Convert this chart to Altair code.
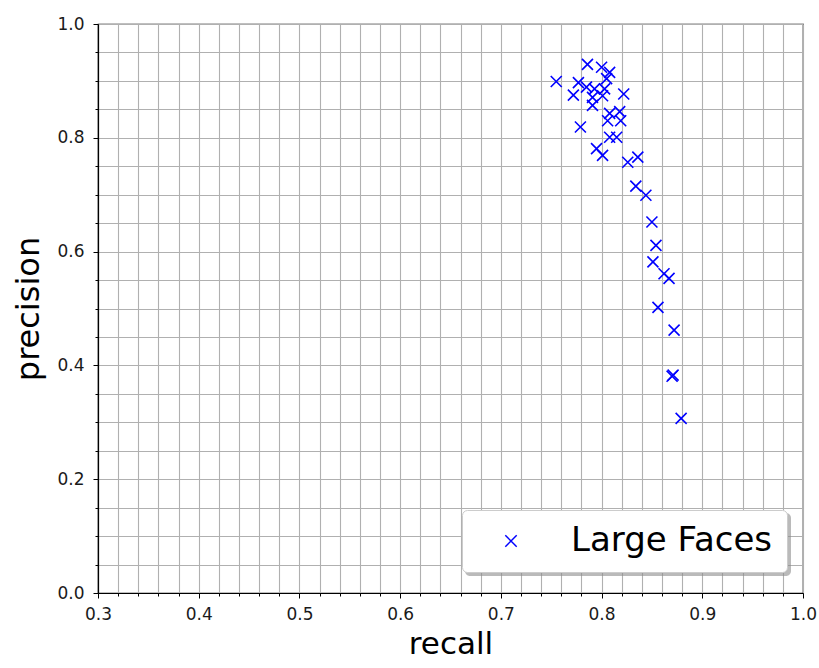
import altair as alt
import pandas as pd

# ---- data ----
recall = [0.755, 0.777, 0.772, 0.786, 0.800, 0.808, 0.805, 0.785, 0.793, 0.803,
          0.801, 0.791, 0.822, 0.791, 0.779, 0.808, 0.818, 0.806, 0.819, 0.808,
          0.815, 0.795, 0.801, 0.826, 0.836, 0.834, 0.844, 0.850, 0.854, 0.851,
          0.862, 0.867, 0.856, 0.872, 0.870, 0.871, 0.879]
precision = [0.899, 0.897, 0.875, 0.929, 0.924, 0.915, 0.904, 0.889, 0.886, 0.886,
             0.874, 0.871, 0.877, 0.857, 0.819, 0.843, 0.846, 0.830, 0.830, 0.801,
             0.801, 0.781, 0.769, 0.757, 0.766, 0.715, 0.699, 0.652, 0.611, 0.582,
             0.561, 0.553, 0.502, 0.462, 0.381, 0.383, 0.307]
series_name = "Large Faces"

x_ticks = [0.30, 0.32, 0.34, 0.36, 0.38, 0.40, 0.42, 0.44, 0.46, 0.48,
           0.50, 0.52, 0.54, 0.56, 0.58, 0.60, 0.62, 0.64, 0.66, 0.68,
           0.70, 0.72, 0.74, 0.76, 0.78, 0.80, 0.82, 0.84, 0.86, 0.88,
           0.90, 0.92, 0.94, 0.96, 0.98, 1.00]
y_ticks = [0.00, 0.05, 0.10, 0.15, 0.20, 0.25, 0.30, 0.35, 0.40, 0.45,
           0.50, 0.55, 0.60, 0.65, 0.70, 0.75, 0.80, 0.85, 0.90, 0.95, 1.00]

df = pd.DataFrame({"recall": recall, "precision": precision,
                   "series": [series_name] * len(recall)})

XPATH = "M -1 -1 L 1 1 M -1 1 L 1 -1"
FONT = "DejaVu Sans"
GRID = "#b0b0b0"

x_major = "abs(datum.value*10 - round(datum.value*10)) < 0.001"
y_major = "abs(datum.value*5 - round(datum.value*5)) < 0.001"

x_axis = alt.Axis(
    values=x_ticks,
    labelExpr=f"{x_major} ? format(datum.value, '.1f') : ''",
    grid=True, gridColor=GRID, gridWidth=1.1, gridOpacity=1,
    domainColor="black", domainWidth=1.2,
    tickColor="black", tickWidth=1,
    tickSize={"condition": {"test": x_major, "value": 5}, "value": 3},
    labelFont=FONT, labelFontSize=17, labelColor="#1a1a1a", labelPadding=8,
    labelOverlap=False, labelFlush=False,
    titleFont=FONT, titleFontSize=31, titleFontWeight="normal",
    titleColor="black", titlePadding=7,
)
y_axis = alt.Axis(
    values=y_ticks,
    labelExpr=f"{y_major} ? format(datum.value, '.1f') : ''",
    grid=True, gridColor=GRID, gridWidth=1.1, gridOpacity=1,
    domainColor="black", domainWidth=1.2,
    tickColor="black", tickWidth=1,
    tickSize={"condition": {"test": y_major, "value": 5}, "value": 3},
    labelFont=FONT, labelFontSize=17, labelColor="#1a1a1a", labelPadding=9,
    labelOverlap=False, labelFlush=False,
    titleFont=FONT, titleFontSize=32, titleFontWeight="normal",
    titleColor="black", titlePadding=11,
)

points = alt.Chart(df).mark_point(
    shape=XPATH, filled=False, strokeWidth=1.6, size=121, opacity=1
).encode(
    x=alt.X("recall:Q", title="recall",
            scale=alt.Scale(domain=[0.3, 1.0], nice=False, zero=False),
            axis=x_axis),
    y=alt.Y("precision:Q", title="precision",
            scale=alt.Scale(domain=[0.0, 1.0], nice=False, zero=False),
            axis=y_axis),
    color=alt.Color("series:N",
                    scale=alt.Scale(domain=[series_name], range=["#0000ff"]),
                    legend=alt.Legend(
                        title=None, orient="none", legendX=364, legendY=486,
                        padding=14, symbolOffset=18, labelOffset=43,
                        labelFont=FONT, labelFontSize=34, labelColor="black",
                        labelLimit=0,
                        symbolType=XPATH, symbolSize=130, symbolStrokeWidth=1.5,
                        fillColor="white", strokeColor="#cccccc",
                        cornerRadius=5,
                    )),
)

shadow = alt.Chart(alt.Data(values=[{}])).mark_rect(
    color="#8c8c8c", opacity=0.6, cornerRadius=5
).encode(
    x=alt.value(367), x2=alt.value(367 + 326),
    y=alt.value(489), y2=alt.value(489 + 63),
)

chart = alt.layer(points, shadow).properties(
    width=705, height=569,
    autosize=alt.AutoSizeParams(type="none"),
    padding={"left": 98, "top": 24, "right": 16, "bottom": 75},
    background="white",
).configure_view(stroke="black", strokeWidth=1.2)

chart.save("out.html", embed_options={"renderer": "svg", "actions": False})
